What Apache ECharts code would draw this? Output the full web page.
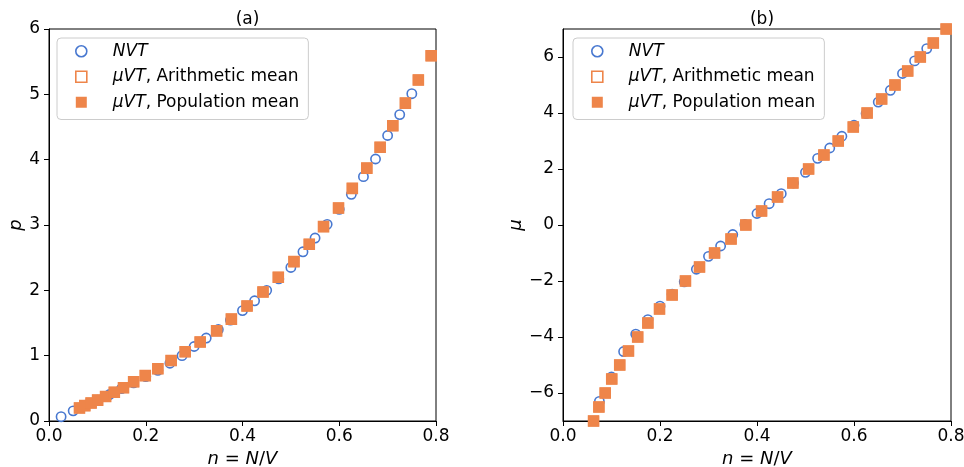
<!DOCTYPE html>
<html><head><meta charset="utf-8">
<script src="https://cdn.jsdelivr.net/npm/echarts@6/dist/echarts.min.js"></script>
<style>html,body{margin:0;padding:0;background:#fff}#c{width:964px;height:467px}</style>
</head><body><div id="c"></div>
<script>
// NVT density points
const nvtN = [0.025,0.05,0.075,0.1,0.125,0.15,0.175,0.2,0.225,0.25,0.275,0.3,0.325,0.35,0.375,0.4,0.425,0.45,0.475,0.5,0.525,0.55,0.575,0.6,0.625,0.65,0.675,0.7,0.725,0.75];
const nvtP = [0.066,0.155,0.24,0.32,0.405,0.495,0.585,0.68,0.775,0.885,1.0,1.14,1.27,1.40,1.545,1.69,1.84,2.0,2.175,2.35,2.59,2.80,3.01,3.24,3.47,3.74,4.01,4.37,4.69,5.01];
// NVT chemical potential (first two densities fall below the axis range)
const nvtMuN = [0.075,0.1,0.125,0.15,0.175,0.2,0.225,0.25,0.275,0.3,0.325,0.35,0.375,0.4,0.425,0.45,0.475,0.5,0.525,0.55,0.575,0.6,0.625,0.65,0.675,0.7,0.725,0.75];
const nvtMu = [-6.3,-5.43,-4.52,-3.9,-3.38,-2.9,-2.47,-2.03,-1.58,-1.12,-0.75,-0.34,0.02,0.41,0.76,1.12,1.5,1.88,2.38,2.75,3.17,3.56,3.98,4.39,4.81,5.41,5.86,6.3];
// muVT points
const muvtN = [0.063,0.074,0.087,0.1005,0.117,0.135,0.154,0.175,0.199,0.225,0.2525,0.2815,0.3125,0.3465,0.377,0.4094,0.4424,0.474,0.5064,0.538,0.5675,0.5985,0.627,0.657,0.6845,0.7107,0.7367,0.7635,0.79];
const muvtP = [0.20,0.235,0.275,0.32,0.375,0.44,0.51,0.60,0.695,0.80,0.925,1.06,1.21,1.38,1.56,1.76,1.975,2.20,2.44,2.705,2.975,3.26,3.56,3.87,4.19,4.52,4.865,5.22,5.59];
const muvtMu = [-7,-6.5,-6,-5.5,-5,-4.5,-4,-3.5,-3,-2.5,-2,-1.5,-1,-0.5,0,0.5,1,1.5,2,2.5,3,3.5,4,4.5,5,5.5,6,6.5,7];
// Tick labels
const xTicks = [0,0.2,0.4,0.6,0.8];
const pTicks = [0,1,2,3,4,5,6];
const muTicks = [-6,-4,-2,0,2,4,6];
const titles = ['(a)','(b)'];
const names = ['NVT','μVT, Arithmetic mean','μVT, Population mean'];

const BLUE = '#4878d0', ORANGE = '#ee854a';
const FONT = 'DejaVu Sans';
const FS = 17;
const zip = (a,b) => a.map((v,i)=>[v,b[i]]);

const chart = echarts.init(document.getElementById('c'), null, {renderer:'canvas'});

const grids = [
  {left:49, top:29, width:387, height:392, show:true, borderColor:'#000', borderWidth:1, backgroundColor:'#fff', containLabel:false, outerBoundsMode:'none'},
  {left:563, top:29, width:388, height:392, show:true, borderColor:'#000', borderWidth:1, backgroundColor:'#fff', containLabel:false, outerBoundsMode:'none'}
];
const xAx = i => ({
  type:'value', gridIndex:i, min:xTicks[0], max:xTicks[xTicks.length-1], interval:0.2,
  name:'{i|n} = {i|N}/{i|V}', nameLocation:'middle', nameGap:29,
  nameTextStyle:{fontFamily:FONT, fontSize:18, color:'#000', rich:{i:{fontStyle:'italic', fontFamily:FONT, fontSize:18, color:'#000'}}},
  axisLine:{show:true, onZero:false, lineStyle:{color:'#000', width:1}},
  axisTick:{show:true, inside:false, length:5, lineStyle:{color:'#000'}},
  axisLabel:{margin:7, fontFamily:FONT, fontSize:FS, color:'#000', formatter:v=>v.toFixed(1)},
  splitLine:{show:false}
});
const fmtMinus = v => v < 0 ? '\u2212' + Math.abs(v) : String(v);

const legendRich = {i:{fontStyle:'italic', fontFamily:FONT, fontSize:FS, color:'#000'}, n:{fontFamily:FONT, fontSize:FS, color:'#000'}};
const legendFmt = name => name === 'NVT' ? '{i|NVT}' : '{i|μVT}{n|' + name.slice(3) + '}';
const legendData = [
  {name:names[0], icon:'circle', itemStyle:{color:'#fff', borderColor:BLUE, borderWidth:1.6, opacity:1}},
  {name:names[1], icon:'rect', itemStyle:{color:'#fff', borderColor:ORANGE, borderWidth:1.6, opacity:1}},
  {name:names[2], icon:'rect', itemStyle:{color:ORANGE, borderWidth:0, opacity:1}}
];
const mkLegend = left => ({
  left:left, top:38, orient:'vertical', selectedMode:false,
  padding:[4,9,8,18], itemWidth:11, itemHeight:11, itemGap:7, 
  backgroundColor:'rgba(255,255,255,0.8)', borderColor:'#cccccc', borderWidth:1, borderRadius:4,
  formatter:legendFmt,
  textStyle:{fontFamily:FONT, fontSize:FS, color:'#000', lineHeight:18.5, padding:[0,0,0,21], rich:legendRich},
  data:legendData
});

const circleSeries = (i, data) => ({
  name:names[0], type:'scatter', xAxisIndex:i, yAxisIndex:i, data:data, z:2,
  symbol:'circle', symbolSize:9.3,
  itemStyle:{color:'#fff', borderColor:BLUE, borderWidth:1.6, opacity:1},
  emphasis:{disabled:true}
});
const hollowSeries = (i, data) => ({
  name:names[1], type:'scatter', xAxisIndex:i, yAxisIndex:i, data:data, z:3,
  symbol:'rect', symbolSize:10,
  itemStyle:{color:'#fff', borderColor:ORANGE, borderWidth:1.6, opacity:1},
  emphasis:{disabled:true}
});
const filledSeries = (i, data) => ({
  name:names[2], type:'scatter', xAxisIndex:i, yAxisIndex:i, data:data, z:4,
  symbol:'rect', symbolSize:11,
  itemStyle:{color:ORANGE, opacity:1},
  emphasis:{disabled:true}
});

chart.setOption({
  animation:false,
  backgroundColor:'#fff',
  textStyle:{fontFamily:FONT},
  title:[
    {text:titles[0], left:242.5, top:6, textAlign:'center', textStyle:{fontFamily:FONT, fontSize:FS, fontWeight:'normal', color:'#000'}},
    {text:titles[1], left:757, top:6, textAlign:'center', textStyle:{fontFamily:FONT, fontSize:FS, fontWeight:'normal', color:'#000'}}
  ],
  legend:[mkLegend(57), mkLegend(573)],
  grid:grids,
  xAxis:[xAx(0), xAx(1)],
  yAxis:[
    {type:'value', gridIndex:0, min:pTicks[0], max:pTicks[pTicks.length-1], interval:1,
     name:'p', nameLocation:'middle', nameGap:22, nameRotate:90,
     nameTextStyle:{fontFamily:FONT, fontSize:18, fontStyle:'italic', color:'#000'},
     axisLine:{show:true, onZero:false, lineStyle:{color:'#000'}},
     axisTick:{show:true, inside:false, length:5, lineStyle:{color:'#000'}},
     axisLabel:{margin:9, fontFamily:FONT, fontSize:FS, color:'#000'},
     splitLine:{show:false}},
    {type:'value', gridIndex:1, min:-7, max:7,
     name:'μ', nameLocation:'middle', nameGap:36, nameRotate:90,
     nameTextStyle:{fontFamily:FONT, fontSize:18, fontStyle:'italic', color:'#000'},
     axisLine:{show:true, onZero:false, lineStyle:{color:'#000'}},
     axisTick:{show:true, inside:false, length:5, lineStyle:{color:'#000'}, customValues:muTicks},
     axisLabel:{margin:9, fontFamily:FONT, fontSize:FS, color:'#000', customValues:muTicks, formatter:fmtMinus},
     splitLine:{show:false}}
  ],
  series:[
    circleSeries(0, zip(nvtN, nvtP)),
    hollowSeries(0, zip(muvtN, muvtP)),
    filledSeries(0, zip(muvtN, muvtP)),
    circleSeries(1, zip(nvtMuN, nvtMu)),
    hollowSeries(1, zip(muvtN, muvtMu)),
    filledSeries(1, zip(muvtN, muvtMu))
  ]
});
</script>
</body></html>
